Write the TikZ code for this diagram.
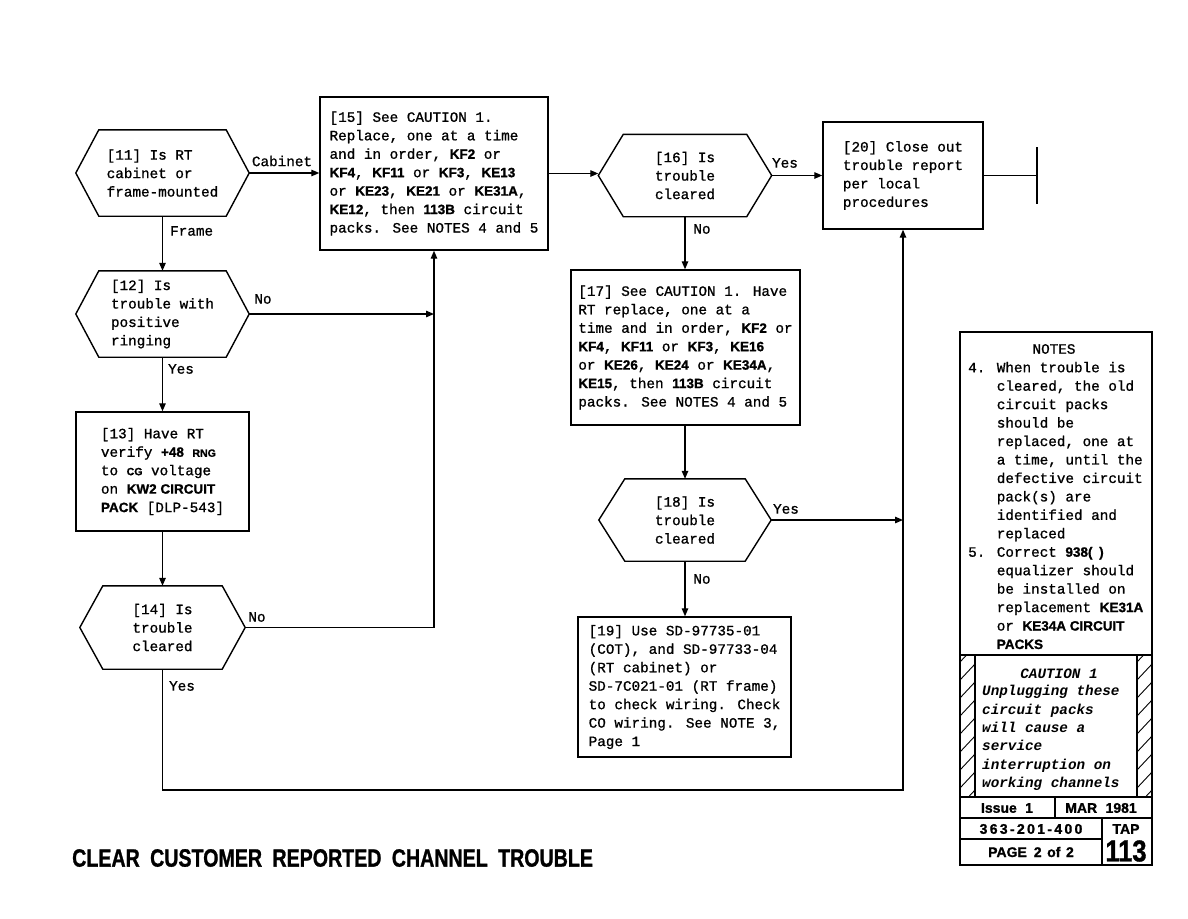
\documentclass[tikz,border=0pt]{standalone}
\usepackage{fontspec}
\setmainfont{Liberation Mono}[UprightFeatures={FakeBold=1.0}]
\newfontfamily\sansbold{Liberation Sans}[BoldFeatures={FakeBold=1.2}]
\usetikzlibrary{arrows.meta}
\newcommand\cpk[1]{{\sansbold\bfseries\fontsize{13.5}{18.45}\selectfont #1}}
\newcommand\cpks[1]{{\sansbold\bfseries\fontsize{10.5}{18.45}\selectfont #1}}
\newcommand\hexof[2]{\draw[hexline] (#1.west) -- ([xshift=#2]#1.north west) -- ([xshift=-#2]#1.north east) -- (#1.east) -- ([xshift=-#2]#1.south east) -- ([xshift=#2]#1.south west) -- cycle;}
\begin{document}
\begin{tikzpicture}[x=1pt,y=-1pt,
  font=\fontsize{14.3}{18.45}\selectfont,
  box/.style={draw,line width=1.4pt,align=left,inner sep=0pt},
  hexa/.style={align=left,inner sep=0pt},
  hexc/.style={align=center,inner sep=0pt},
  lbl/.style={inner sep=0pt},
  conn/.style={line width=1.3pt,-{Triangle[length=8pt,width=6.5pt]}},
  plain/.style={line width=1.3pt},
  frame/.style={line width=1.3pt},
  tab/.style={inner sep=0pt,font=\sansbold\bfseries\fontsize{14}{14}\selectfont},
  hexline/.style={line width=1.4pt,line join=miter}]
\useasboundingbox (0,0) rectangle (1188,918);

% ---- left column
\node[hexa,minimum width=173pt,minimum height=86pt] (h11) at (162.5,173) {[11] Is RT\\cabinet or\\frame-mounted};
\hexof{h11}{23pt}
\node[hexa,minimum width=173pt,minimum height=86pt] (h12) at (162.5,314) {[12] Is\\trouble with\\positive\\ringing};
\hexof{h12}{23pt}
\node[box,minimum width=173pt,minimum height=119pt] (b13) at (162.5,471.5) {[13] Have RT\\verify \cpk{+48} \cpks{RNG}\\to \cpks{CG} voltage\\on \cpk{KW2 CIRCUIT}\\\cpk{PACK} [DLP-543]};
\node[hexc,minimum width=165pt,minimum height=83pt] (h14) at (162.5,627.5) {[14] Is\\trouble\\cleared};
\hexof{h14}{23pt}

% ---- middle
\node[box,minimum width=228pt,minimum height=153pt] (b15) at (434,173.5) {[15] See CAUTION 1.\\Replace, one at a time\\and in order, \cpk{KF2} or\\\cpk{KF4}, \cpk{KF11} or \cpk{KF3}, \cpk{KE13}\\or \cpk{KE23}, \cpk{KE21} or \cpk{KE31A},\\\cpk{KE12}, then \cpk{113B} circuit\\packs. See NOTES 4 and 5};

% ---- right column
\node[hexc,minimum width=173pt,minimum height=82pt] (h16) at (685,175.5) {[16] Is\\trouble\\cleared};
\hexof{h16}{25pt}
\node[box,minimum width=229pt,minimum height=155pt] (b17) at (685.5,347.5) {[17] See CAUTION 1. Have\\RT replace, one at a\\time and in order, \cpk{KF2} or\\\cpk{KF4}, \cpk{KF11} or \cpk{KF3}, \cpk{KE16}\\or \cpk{KE26}, \cpk{KE24} or \cpk{KE34A},\\\cpk{KE15}, then \cpk{113B} circuit\\packs. See NOTES 4 and 5};
\node[hexc,minimum width=172pt,minimum height=82pt] (h18) at (685,520) {[18] Is\\trouble\\cleared};
\hexof{h18}{26pt}
\node[box,minimum width=213pt,minimum height=140pt] (b19) at (684.5,687) {[19] Use SD-97735-01\\(COT), and SD-97733-04\\(RT cabinet) or\\SD-7C021-01 (RT frame)\\to check wiring. Check\\CO wiring. See NOTE 3,\\Page 1};
\node[box,minimum width=160pt,minimum height=107pt] (b20) at (903,175.5) {[20] Close out\\trouble report\\per local\\procedures};

% ---- connectors
\draw[conn] (h11.east) -- (h11.east -| b15.west);
\node[lbl] (lcab) at (282,161) {Cabinet};
\draw[conn] (h11.south) -- (h11.south |- h12.north);
\node[lbl,anchor=west] (lframe) at (170,231) {Frame};
\draw[conn] (h12.east) -- (h12.east -| b15.south);
\node[lbl] (lno12) at (263,299) {No};
\draw[conn] (h12.south) -- (h12.south |- b13.north);
\node[lbl] (lyes12) at (181,369) {Yes};
\draw[conn] (b13.south) -- (b13.south |- h14.north);
\draw[conn] (h14.east) -| (b15.south);
\node[lbl] (lno14) at (257,617) {No};
\coordinate (bot) at (162,790);
\draw[conn] (h14.south) |- (bot -| b20.south) -- (b20.south);
\node[lbl] (lyes14) at (182,686) {Yes};
\draw[conn] (b15.east) -- (b15.east -| h16.west);
\draw[conn] (h16.east) -- (h16.east -| b20.west);
\node[lbl] (lyes16) at (785,163) {Yes};
\draw[conn] (h16.south) -- (h16.south |- b17.north);
\node[lbl] (lno16) at (702,229) {No};
\draw[conn] (b17.south -| h18.north) -- (h18.north);
\draw[conn] (h18.east) -- (h18.east -| b20.south);
\node[lbl] (lyes18) at (786,509) {Yes};
\draw[conn] (h18.south) -- (h18.south |- b19.north);
\node[lbl] (lno18) at (702,579) {No};
\coordinate (term) at (1037,175.5);
\draw[plain] (b20.east) -- (term);
\draw[line width=2.6pt] ([yshift=28.5pt]term) -- ([yshift=-28.5pt]term);

% ---- notes / caution / title block
\draw[frame] (960,332) rectangle (1152,865);
\draw[frame] (960,655) -- (1152,655);
\draw[frame] (975,655) -- (975,797);
\draw[frame] (1137,655) -- (1137,797);
\draw[frame] (960,797) -- (1152,797);
\draw[frame] (960,818) -- (1152,818);
\draw[frame] (960,839) -- (1102,839);
\draw[frame] (1055,797) -- (1055,818);
\draw[frame] (1102,818) -- (1102,865);
\begin{scope}
\clip (960,655) rectangle (975,797);
\foreach \yy in {662,680,...,820} \draw[line width=0.9pt] (960,\yy) -- (975,\yy-16);
\end{scope}
\begin{scope}
\clip (1137,655) rectangle (1152,797);
\foreach \yy in {662,680,...,820} \draw[line width=0.9pt] (1137,\yy) -- (1152,\yy-16);
\end{scope}

\node[lbl] (notest) at (1054,349) {NOTES};
\node[lbl,anchor=west,align=left] (notes) at (968,505.5) {4. When trouble is\\\hphantom{4. }cleared, the old\\\hphantom{4. }circuit packs\\\hphantom{4. }should be\\\hphantom{4. }replaced, one at\\\hphantom{4. }a time, until the\\\hphantom{4. }defective circuit\\\hphantom{4. }pack(s) are\\\hphantom{4. }identified and\\\hphantom{4. }replaced\\5. Correct \cpk{938(\hspace{0.5em})}\\\hphantom{5. }equalizer should\\\hphantom{5. }be installed on\\\hphantom{5. }replacement \cpk{KE31A}\\\hphantom{5. }or \cpk{KE34A CIRCUIT}\\\hphantom{5. }\cpk{PACKS}};
\node[lbl,font=\fontsize{14.3}{18.45}\selectfont\bfseries\itshape] (cautt) at (1059,674) {CAUTION 1};
\node[lbl,anchor=west,align=left,font=\fontsize{14.3}{18.45}\selectfont\bfseries\itshape] (caut) at (982,738) {Unplugging these\\circuit packs\\will cause a\\service\\interruption on\\working channels};

\node[tab] (issue) at (1007,808) {Issue\hspace{0.6em}1};
\node[tab] (date) at (1101,808) {MAR\hspace{0.6em}1981};
\node[tab] (docno) at (1031,829) {3\,6\,3\,-\,2\,0\,1\,-\,4\,0\,0};
\node[tab] (tap) at (1126,829) {TAP};
\node[tab] (page) at (1031,852) {PAGE\hspace{0.5em}2\hspace{0.4em}of\hspace{0.4em}2};
\node[inner sep=0pt,font=\sansbold\bfseries\fontsize{30}{30}\selectfont] (num) at (1126,851) {\scalebox{0.85}[1]{113}};

\node[inner sep=0pt,anchor=west,font=\sansbold\bfseries\fontsize{25}{25}\selectfont] (title) at (72,858) {\scalebox{0.785}[1]{CLEAR\hspace{0.25em} CUSTOMER\hspace{0.25em} REPORTED\hspace{0.25em} CHANNEL\hspace{0.25em} TROUBLE}};
\end{tikzpicture}
\end{document}
